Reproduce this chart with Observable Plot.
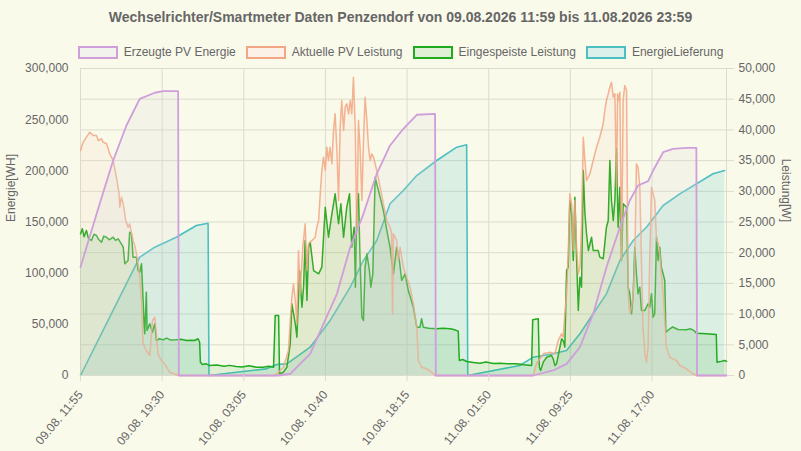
<!DOCTYPE html>
<html><head><meta charset="utf-8">
<script src="https://cdn.jsdelivr.net/npm/d3@7"></script>
<script src="https://cdn.jsdelivr.net/npm/@observablehq/plot@0.6"></script>
<style>
html,body{margin:0;padding:0;background:#fafaeb;}
body{width:801px;height:451px;overflow:hidden;font-family:"Liberation Sans",Arial,Helvetica,sans-serif;color:#666;}
#title{height:34px;line-height:34px;text-align:center;font-weight:bold;font-size:14px;color:#666;}
#legend{height:20px;padding-top:8px;display:flex;justify-content:center;align-items:center;font-size:12px;color:#666;}
.item{display:flex;align-items:center;margin:0 5px;}
.sw{box-sizing:border-box;width:40px;height:13px;border:2px solid;margin-right:6px;}
svg{display:block;}
</style>
</head><body>
<div id="title">Wechselrichter/Smartmeter Daten Penzendorf von 09.08.2026 11:59 bis 11.08.2026 23:59</div>
<div id="legend"></div>
<div id="chart"></div>
<script>
// ---- data (minutes since 09.08.2026 11:55) ----
const startTime = "2026-08-09T11:55:00Z";
const endTime = "2026-08-11T23:55:00Z";
const tickTimes = ["2026-08-09T11:55:00Z","2026-08-09T19:30:00Z","2026-08-10T03:05:00Z","2026-08-10T10:40:00Z","2026-08-10T18:15:00Z","2026-08-11T01:50:00Z","2026-08-11T09:25:00Z","2026-08-11T17:00:00Z"];
const energyTicks = [0,50000,100000,150000,200000,250000,300000];
const powerTicks = [0,5000,10000,15000,20000,25000,30000,35000,40000,45000,50000];
const seriesNames = ["Erzeugte PV Energie","Aktuelle PV Leistung","Eingespeiste Leistung","EnergieLieferung"];
const axisLabels = ["Energie[WH]", "Leistung[W]"];

// Erzeugte PV Energie [Wh]
const pvEnergieMin = [0,107,182,256,330,414,460,544,548,1105,1169,1280,1354,1429,1503,1577,1651,1725,1799,1874,1976,1980,2521,2634,2709,2783,2857,2931,3006,3061,3107,3163,3191,3247,3302,3377,3432,3436,3600];
const pvEnergieWh = [106000,167800,210100,244300,270400,276300,277800,277800,0,0,1700,21200,50500,79800,125400,158000,197100,224800,241100,254800,255700,0,0,4900,11400,27700,60300,105800,144900,171000,185700,189900,200300,218200,221500,222500,222500,0,0];

// EnergieLieferung [Wh]
const lieferMin = [0,330,414,534,646,711,716,1035,1095,1150,1280,1391,1503,1577,1651,1725,1799,1874,1985,2097,2152,2158,2449,2523,2634,2709,2783,2857,2931,3006,3080,3154,3247,3340,3432,3525,3590];
const lieferWh = [0,115600,125400,135100,146600,148800,0,6500,10700,11400,27700,53700,86300,112400,131900,167800,180800,195400,210100,223100,225400,0,9800,17900,21200,24400,40700,60300,79800,112400,131900,144900,166100,177500,187300,197100,200300];

// Aktuelle PV Leistung [W]
const pvLeistungMin = [0,15,33,52,71,89,99,117,126,145,163,182,200,215,219,228,238,252,265,274,293,302,312,321,330,340,345,349,367,386,401,414,423,432,451,469,497,534,553,1076,1095,1131,1159,1169,1178,1187,1197,1206,1215,1224,1239,1252,1262,1271,1290,1308,1317,1327,1336,1345,1354,1364,1373,1382,1391,1401,1410,1419,1429,1438,1447,1456,1466,1475,1484,1494,1503,1512,1521,1531,1540,1549,1558,1568,1577,1586,1596,1605,1614,1623,1633,1642,1651,1670,1688,1707,1725,1734,1739,1744,1762,1771,1781,1799,1818,1837,1855,1874,1883,1901,1929,1957,1976,2523,2541,2579,2616,2644,2662,2681,2690,2699,2709,2718,2727,2737,2746,2755,2765,2774,2783,2792,2802,2811,2820,2839,2857,2876,2894,2913,2922,2931,2941,2950,2959,2969,2978,2987,2993,3000,3006,3015,3024,3033,3043,3052,3061,3071,3080,3089,3098,3107,3117,3126,3135,3145,3154,3163,3172,3182,3191,3200,3210,3219,3228,3237,3247,3256,3265,3284,3302,3321,3340,3377,3414,3432,3600];
const pvLeistungW = [36650,38000,38810,39630,39090,39090,38270,38550,38000,37740,36110,35020,32300,29590,27410,29040,27960,25250,24150,24710,21990,21170,19820,18190,16010,12220,7870,5160,4070,3260,8960,9500,6790,3530,2440,1910,540,160,0,0,280,1350,4070,8960,12750,14930,12220,8420,20360,13310,20900,24710,17100,21450,21990,22520,24150,25250,29590,33390,35560,33390,37180,35020,37180,34480,39900,42620,36650,28500,40440,44790,39900,43700,44250,42620,44790,42620,48580,40440,23080,41530,37180,28500,38270,45330,41530,37180,35020,36110,35560,34480,33390,30670,27960,25250,24150,23080,10050,23080,21990,18730,20900,17640,16010,14380,11680,7870,2440,1350,1090,540,0,0,1910,3530,3790,3530,5700,6790,6240,10050,13310,19820,29590,27960,20360,28500,20900,16560,17640,24150,38810,35020,31760,32850,35020,37180,38810,41000,43160,44790,45880,46960,47770,45330,45880,30670,45880,44790,46140,18730,44790,47230,46420,13310,10050,11120,13310,18730,34480,33930,30670,18730,7870,3530,2170,4610,18730,30670,29590,28500,21990,21710,19820,16560,13310,8960,4610,2980,2720,2440,1630,1090,280,0,0];

// Eingespeiste Leistung [W]
const einspeisMin = [0,10,20,33,45,61,75,89,100,117,130,145,160,182,195,210,228,238,247,265,274,284,293,312,321,330,340,349,355,358,367,371,386,401,414,423,441,460,480,500,534,560,590,620,636,655,664,668,679,700,720,760,800,830,868,900,940,980,1017,1050,1076,1085,1104,1109,1131,1150,1169,1178,1197,1206,1221,1234,1243,1252,1262,1271,1280,1299,1327,1345,1364,1382,1401,1419,1438,1451,1466,1484,1499,1512,1525,1532,1540,1549,1558,1568,1577,1586,1596,1610,1618,1629,1642,1651,1670,1688,1707,1725,1744,1762,1777,1790,1809,1827,1855,1874,1892,1901,1910,1940,1985,2020,2059,2080,2105,2111,2130,2152,2190,2226,2260,2300,2338,2380,2431,2470,2514,2520,2551,2557,2564,2579,2598,2625,2634,2644,2653,2668,2681,2690,2699,2709,2718,2727,2737,2746,2755,2765,2774,2783,2792,2802,2811,2820,2830,2848,2857,2885,2894,2913,2931,2941,2950,2959,2969,2978,2987,2996,3006,3015,3024,3043,3052,3061,3071,3080,3089,3098,3107,3117,3126,3145,3163,3172,3182,3191,3200,3210,3219,3228,3237,3247,3256,3262,3284,3300,3330,3377,3400,3423,3432,3488,3543,3547,3570,3590,3600];
const einspeisW = [23080,23900,22600,23620,22300,21990,23000,22800,22200,21710,22700,22520,22100,22520,22000,22260,21450,20900,18190,18730,23340,23080,19270,19270,17100,16820,18190,12220,7870,6790,13570,7330,8420,7050,8420,5700,5980,5800,6100,5800,5810,5900,5700,5750,5700,5980,5420,2170,1790,1900,1630,1700,1500,1650,1470,1400,1600,1350,1350,1500,1350,9770,9770,280,540,1350,5160,11680,8420,6240,17100,11120,14380,21990,12220,20900,21710,17100,16560,17640,27410,22520,26340,29590,24710,27960,22520,27410,29590,20900,24150,14380,27960,29590,18730,9500,8960,17640,19820,17100,14380,16560,32300,31220,29040,26870,23620,20900,16560,20900,18730,15470,16560,13840,11120,7870,7870,9230,7870,7700,7610,7700,7610,7500,7220,2440,2600,2280,2100,2000,2200,1950,2000,1900,1910,1750,1630,9070,9230,1350,810,2170,2980,3260,2720,1630,1910,4070,5980,5700,4610,17100,17640,28500,26340,18730,29040,18730,10590,16010,14380,33390,26340,23080,20360,22520,20360,20360,19270,19010,24150,25250,35020,28500,25250,28500,36920,24150,30670,18730,27960,27410,14380,13310,10050,13310,20900,16560,13310,14380,10590,10590,11680,11120,13310,9500,10050,22520,18730,20900,17640,16560,15470,7050,7610,7900,7500,7440,7600,7220,6890,6790,6680,2170,2300,2440,2300];

// ---- build ----
const t0 = new Date(startTime).getTime();
const rows = (mins, vals) => mins.map((m, i) => ({date: new Date(t0 + m * 60000), v: vals[i]}));
const pvEnergie = rows(pvEnergieMin, pvEnergieWh);
const liefer = rows(lieferMin, lieferWh);
const pvLeistung = rows(pvLeistungMin, pvLeistungW);
const einspeis = rows(einspeisMin, einspeisW);

const ratio = 300000 / 50000; // left axis (Wh) vs right axis (W)
const fmt = d3.format(",");
const grid = "#dcdcce";
const colors = {
  purple: {stroke: "#cf9edb", fill: "rgba(215,215,220,0.2)"},
  salmon: {stroke: "#f2a683", fill: "rgba(248,190,160,0.1)"},
  green: {stroke: "#1faa1f", fill: "rgba(30,170,30,0.12)"},
  teal: {stroke: "#4bbfc2", fill: "rgba(75,192,192,0.18)"}
};
const legendColors = [colors.purple, colors.salmon, colors.green, colors.teal];
const legendFills = ["#f3f3ee", "#fcf1e6", "#dff0d6", "#dbf0ea"];

const legend = document.getElementById("legend");
seriesNames.forEach((name, i) => {
  const it = document.createElement("div");
  it.className = "item";
  const sw = document.createElement("span");
  sw.className = "sw";
  sw.style.borderColor = legendColors[i].stroke;
  sw.style.background = legendFills[i];
  const tx = document.createElement("span");
  tx.textContent = name;
  it.appendChild(sw); it.appendChild(tx);
  legend.appendChild(it);
});

const ticks = tickTimes.map(s => new Date(s));
const E = d => d.v / ratio;

const chart = Plot.plot({
  width: 801,
  height: 389,
  marginTop: 6,
  marginBottom: 76,
  marginLeft: 80,
  marginRight: 75,
  style: {background: "transparent", fontFamily: "'Liberation Sans', Arial, sans-serif", fontSize: "12px", color: "#666"},
  x: {type: "utc", domain: [new Date(startTime), new Date(endTime)]},
  y: {domain: [0, 50000]},
  marks: [
    Plot.gridX(ticks, {stroke: grid, strokeOpacity: 1}),
    Plot.gridY(powerTicks, {stroke: grid, strokeOpacity: 1}),
    Plot.frame({stroke: grid}),
    // EnergieLieferung
    Plot.areaY(liefer, {x: "date", y: E, fill: colors.teal.fill}),
    Plot.lineY(liefer, {x: "date", y: E, stroke: colors.teal.stroke, strokeWidth: 1.6}),
    // Eingespeiste Leistung
    Plot.areaY(einspeis, {x: "date", y: "v", fill: colors.green.fill}),
    Plot.lineY(einspeis, {x: "date", y: "v", stroke: colors.green.stroke, strokeWidth: 1.5}),
    // Aktuelle PV Leistung
    Plot.areaY(pvLeistung, {x: "date", y: "v", fill: colors.salmon.fill}),
    Plot.lineY(pvLeistung, {x: "date", y: "v", stroke: colors.salmon.stroke, strokeWidth: 1.5, strokeOpacity: 0.85}),
    // Erzeugte PV Energie
    Plot.areaY(pvEnergie, {x: "date", y: E, fill: colors.purple.fill}),
    Plot.lineY(pvEnergie, {x: "date", y: E, stroke: colors.purple.stroke, strokeWidth: 1.8}),
    // axes
    Plot.axisX(ticks, {tickFormat: d3.utcFormat("%d.%m. %H:%M"), tickRotate: -50, tickSize: 6, tickPadding: 11, stroke: grid, fill: "#666", label: null}),
    Plot.axisY(energyTicks.map(v => v / ratio), {anchor: "left", tickSize: 0, tickPadding: 12, tickFormat: d => fmt(Math.round(d * ratio)), fill: "#666", label: null}),
    Plot.axisY(powerTicks, {anchor: "right", tickSize: 7, tickPadding: 5, stroke: grid, tickFormat: fmt, fill: "#666", label: null}),
    Plot.text([axisLabels[0]], {frameAnchor: "left", dx: -69, rotate: -90, fill: "#666", fontSize: 12}),
    Plot.text([axisLabels[1]], {frameAnchor: "right", dx: 59, rotate: 90, fill: "#666", fontSize: 12})
  ]
});
document.getElementById("chart").appendChild(chart);
</script>
</body></html>
